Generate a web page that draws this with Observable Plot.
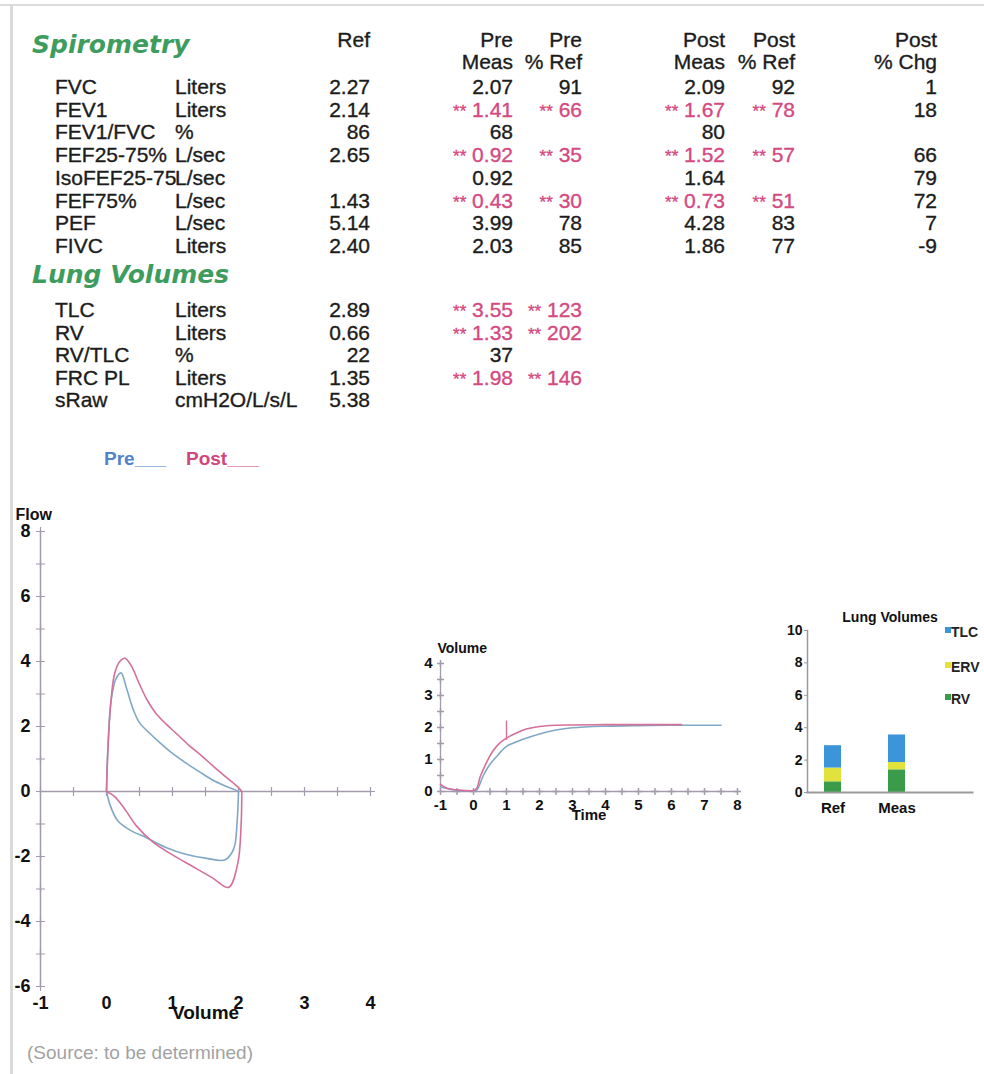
<!DOCTYPE html>
<html><head><meta charset="utf-8">
<script src="https://cdn.jsdelivr.net/npm/d3@7"></script>
<script src="https://cdn.jsdelivr.net/npm/@observablehq/plot@0.6"></script>
<style>
html,body{margin:0;padding:0;background:#fff;}
#page{position:relative;width:984px;height:1074px;overflow:hidden;background:#fff;font-family:"Liberation Sans",Arial,sans-serif;color:#1c1c1c;}
.t{position:absolute;white-space:nowrap;font-size:21px;line-height:24px;-webkit-text-stroke:0.35px currentColor;}
.r{transform:translateX(-100%);}
.flag{color:#d4497f;}
.ast{font-size:17px;}
.h{position:absolute;white-space:nowrap;font-family:"DejaVu Sans",sans-serif;font-weight:bold;font-style:italic;font-size:25px;line-height:30px;color:#3e9c5e;}
.pl{position:absolute;}
.lg{position:absolute;white-space:nowrap;font-weight:bold;font-size:19px;line-height:22px;}
</style></head><body><div id="page"></div>
<script>
// ---------------- DATA ----------------
const spiroParams = ["FVC","FEV1","FEV1/FVC","FEF25-75%","IsoFEF25-75","FEF75%","PEF","FIVC"];
const spiroUnits  = ["Liters","Liters","%","L/sec","L/sec","L/sec","L/sec","Liters"];
const spiroRef    = ["2.27","2.14","86","2.65","","1.43","5.14","2.40"];
const spiroPreMeas= ["2.07","1.41","68","0.92","0.92","0.43","3.99","2.03"];
const spiroPrePct = ["91","66","","35","","30","78","85"];
const spiroPostMeas=["2.09","1.67","80","1.52","1.64","0.73","4.28","1.86"];
const spiroPostPct= ["92","78","","57","","51","83","77"];
const spiroPostChg= ["1","18","","66","79","72","7","-9"];
const spiroFlag   = [0,1,0,1,0,1,0,0];

const lvParams  = ["TLC","RV","RV/TLC","FRC PL","sRaw"];
const lvUnits   = ["Liters","Liters","%","Liters","cmH2O/L/s/L"];
const lvRef     = ["2.89","0.66","22","1.35","5.38"];
const lvPreMeas = ["3.55","1.33","37","1.98",""];
const lvPrePct  = ["123","202","","146",""];
const lvFlag    = [1,1,0,1,0];

const headers = [
  {col:"ref", lines:["Ref"]},
  {col:"preMeas", lines:["Pre","Meas"]},
  {col:"prePct", lines:["Pre","% Ref"]},
  {col:"postMeas", lines:["Post","Meas"]},
  {col:"postPct", lines:["Post","% Ref"]},
  {col:"postChg", lines:["Post","% Chg"]}
];

// Flow-volume loop  [volume, flow]
const preExp  = [[0,0],[0.02,1.3],[0.07,2.8],[0.14,3.45],[0.22,3.65],[0.3,3.2],[0.4,2.55],[0.5,2.12],[0.65,1.8],[0.82,1.48],[1.0,1.17],[1.2,0.88],[1.4,0.62],[1.6,0.36],[1.8,0.17],[1.95,0.05],[2.0,0]];
const preInsp = [[2.0,0],[1.98,-0.9],[1.93,-1.75],[1.8,-2.1],[1.5,-2.05],[1.2,-1.93],[0.9,-1.72],[0.6,-1.42],[0.35,-1.18],[0.17,-0.9],[0.06,-0.45],[0,0]];
const postExp = [[0,0],[0.02,1.2],[0.06,2.6],[0.12,3.6],[0.2,4.0],[0.28,4.1],[0.38,3.85],[0.5,3.3],[0.62,2.8],[0.75,2.4],[0.9,2.08],[1.05,1.8],[1.25,1.42],[1.45,1.08],[1.65,0.72],[1.85,0.38],[2.0,0.12],[2.05,0]];
const postInsp= [[2.05,0],[2.04,-1.0],[1.99,-2.2],[1.85,-2.95],[1.6,-2.65],[1.3,-2.3],[1.0,-1.95],[0.7,-1.55],[0.45,-1.05],[0.28,-0.55],[0.12,-0.15],[0,0]];
const flowYTicks = [-6,-5,-4,-3,-2,-1,0,1,2,3,4,5,6,7,8];
const flowYLabels = [-6,-4,-2,0,2,4,6,8];
const flowXTicks = [-0.5,0,0.5,1,1.5,2,2.5,3,3.5,4];
const flowXLabels = [-1,0,1,2,3,4];

// Volume-time  [time, volume]
const preVT  = [[-1,0.15],[-0.6,0.05],[0,0.02],[0.1,0.05],[0.3,0.5],[0.5,0.85],[0.75,1.15],[1.0,1.41],[1.5,1.63],[2,1.8],[2.5,1.92],[3,1.99],[4,2.04],[5,2.06],[6,2.07],[7.5,2.07]];
const postVT = [[-1,0.22],[-0.8,0.1],[-0.5,0.05],[0,0.03],[0.1,0.1],[0.2,0.45],[0.4,0.92],[0.6,1.28],[0.8,1.52],[1.0,1.67],[1.3,1.83],[1.6,1.95],[2.0,2.03],[2.5,2.07],[3,2.08],[4,2.09],[5,2.09],[6.3,2.09]];
const vtMarkers = [{series:"Post", t:1, v1:1.6, v2:2.2}];
const vtXTicks = [-0.5,0,0.5,1,1.5,2,2.5,3,3.5,4,4.5,5,5.5,6,6.5,7,7.5,8];
const vtYTicks = [0,0.5,1,1.5,2,2.5,3,3.5,4];
const vtXLabels = [-1,0,1,2,3,4,5,6,7,8];
const vtYLabels = [0,1,2,3,4];

// Lung volumes bars
const lvCats  = ["Ref","Meas"];
const lvComps = ["RV","ERV","TLC"];
const lvRV    = [0.66,1.40];
const lvERV   = [0.85,0.45];
const lvTop   = [1.38,1.70];
const lvYLabels = [0,2,4,6,8,10];

const preColor = "#80a8c6", postColor = "#d4709a", axisColor = "#a39aad";
const compColors = ["#3a9c48","#e2e23c","#3b95d8"];
const fmt = d => String(d);

// ---------------- PAGE ----------------
const page = document.getElementById("page");
function el(cls, x, y, html, extra="") {
  const d = document.createElement("div");
  d.className = cls;
  d.style.cssText = `left:${x}px;top:${y}px;${extra}`;
  d.innerHTML = html;
  page.appendChild(d);
  return d;
}
// frame borders
el("", 0, 4, "", "position:absolute;width:984px;height:2px;background:#dadada;");
el("", 10, 4, "", "position:absolute;width:3px;height:1070px;background:#dadada;");

const colX = {label:55, unit:175, ref:370, preMeas:513, prePct:582, postMeas:725, postPct:795, postChg:937};
function cell(x, yc, v, right, flag) {
  if (v === "") return;
  const html = flag ? `<span class="ast">**</span> ${v}` : v;
  el("t" + (right ? " r" : "") + (flag ? " flag" : ""), x, yc - 12, html);
}
// headers
headers.forEach(h => h.lines.forEach((s, i) => cell(colX[h.col], 40 + i * 22, s, true, false)));
// headings
el("h", 32, 30, "Spirometry");
el("h", 32, 260, "Lung Volumes");
// spirometry rows
spiroParams.forEach((p, i) => {
  const y = 87 + i * 22.7;
  cell(colX.label, y, p, false, false);
  cell(colX.unit, y, spiroUnits[i], false, false);
  cell(colX.ref, y, spiroRef[i], true, false);
  cell(colX.preMeas, y, spiroPreMeas[i], true, spiroFlag[i]);
  cell(colX.prePct, y, spiroPrePct[i], true, spiroFlag[i]);
  cell(colX.postMeas, y, spiroPostMeas[i], true, spiroFlag[i]);
  cell(colX.postPct, y, spiroPostPct[i], true, spiroFlag[i]);
  cell(colX.postChg, y, spiroPostChg[i], true, false);
});
lvParams.forEach((p, i) => {
  const y = 310 + i * 22.5;
  cell(colX.label, y, p, false, false);
  cell(colX.unit, y, lvUnits[i], false, false);
  cell(colX.ref, y, lvRef[i], true, false);
  cell(colX.preMeas, y, lvPreMeas[i], true, lvFlag[i]);
  cell(colX.prePct, y, lvPrePct[i], true, lvFlag[i]);
});
// legend pre/post
el("lg", 104, 448, "Pre___", "color:#5283c9;");
el("lg", 186, 448, "Post___", "color:#d0477d;");
// source
el("", 27, 1041, "(Source: to be determined)", "position:absolute;white-space:nowrap;font-size:19px;line-height:24px;color:#a2a2a2;");

function place(svg, x, y) {
  const d = document.createElement("div");
  d.className = "pl";
  d.style.left = x + "px"; d.style.top = y + "px";
  d.appendChild(svg);
  page.appendChild(d);
}
const baseStyle = {fontFamily:'"Liberation Sans", Arial, sans-serif', fontWeight:"bold", color:"#111", background:"transparent", overflow:"visible"};

// ---------------- FLOW-VOLUME ----------------
const flowRows = [];
[["Pre","e",preExp],["Pre","i",preInsp],["Post","e",postExp],["Post","i",postInsp]].forEach(([s, g, pts]) =>
  pts.forEach(([v, f]) => flowRows.push({series:s, seg:s + g, v, f})));

const flowPlot = Plot.plot({
  width: 390, height: 525,
  marginLeft: 40, marginRight: 20, marginTop: 36, marginBottom: 34,
  x: {domain: [-1, 4]}, y: {domain: [-6, 8]},
  color: {domain: ["Pre","Post"], range: [preColor, postColor]},
  style: {...baseStyle, fontSize: "18px"},
  marks: [
    Plot.ruleX([-1], {y1: -6, y2: 8, stroke: axisColor, strokeWidth: 1.5}),
    Plot.ruleY([0], {x1: -1, x2: 4, stroke: axisColor, strokeWidth: 1.5}),
    Plot.dot(flowYTicks, {x: -1, y: d => d, symbol: "plus", r: 3, stroke: axisColor, strokeWidth: 1.2}),
    Plot.dot(flowXTicks, {x: d => d, y: 0, symbol: "plus", r: 3, stroke: axisColor, strokeWidth: 1.2}),
    Plot.axisY({ticks: flowYLabels, tickFormat: fmt, tickSize: 0, tickPadding: 10, label: null, fontSize: 18}),
    Plot.axisX({ticks: flowXLabels, tickFormat: fmt, tickSize: 0, tickPadding: 10, label: null, fontSize: 18}),
    Plot.text(["Volume"], {frameAnchor: "bottom", dy: 32, fontSize: 19, fill: "#111"}),
    Plot.text(["Flow"], {frameAnchor: "top-left", dx: -25, dy: -23, textAnchor: "start", fontSize: 16, fill: "#111"}),
    Plot.line(flowRows, {x: "v", y: "f", z: "seg", stroke: "series", strokeWidth: 1.6, curve: "catmull-rom"})
  ]
});
place(flowPlot, 0, 495);

// ---------------- VOLUME-TIME ----------------
const vtRows = [];
[["Pre", preVT], ["Post", postVT]].forEach(([s, pts]) => pts.forEach(([t, v]) => vtRows.push({series:s, t, v})));
const vtPlot = Plot.plot({
  width: 357, height: 201,
  marginLeft: 40, marginRight: 20, marginTop: 33, marginBottom: 40,
  x: {domain: [-1, 8]}, y: {domain: [0, 4]},
  color: {domain: ["Pre","Post"], range: [preColor, postColor]},
  style: {...baseStyle, fontSize: "14px"},
  marks: [
    Plot.ruleX([-1], {y1: 0, y2: 4, stroke: axisColor, strokeWidth: 1.3}),
    Plot.ruleY([0], {x1: -1, x2: 8, stroke: axisColor, strokeWidth: 1.3}),
    Plot.dot(vtYTicks, {x: -1, y: d => d, symbol: "plus", r: 2.4, stroke: axisColor}),
    Plot.dot(vtXTicks, {x: d => d, y: 0, symbol: "plus", r: 2.4, stroke: axisColor}),
    Plot.axisY({ticks: vtYLabels, tickFormat: fmt, tickSize: 0, tickPadding: 8, label: null, fontSize: 15}),
    Plot.axisX({ticks: vtXLabels, tickFormat: fmt, tickSize: 0, tickPadding: 8, label: null, fontSize: 15}),
    Plot.text(["Volume"], {frameAnchor: "top-left", dx: -3, dy: -20, fontSize: 14, fill: "#111"}),
    Plot.text(["Time"], {frameAnchor: "bottom", dy: 28, fontSize: 15, fill: "#111"}),
    Plot.line(vtRows, {x: "t", y: "v", z: "series", stroke: "series", strokeWidth: 1.6, curve: "catmull-rom"}),
    Plot.ruleX(vtMarkers, {x: "t", y1: "v1", y2: "v2", stroke: "series", strokeWidth: 1.4})
  ]
});
place(vtPlot, 400, 630);

// ---------------- LUNG VOLUMES BARS ----------------
const barRows = [];
lvCats.forEach((c, i) => {
  barRows.push({cat: c, comp: "RV", value: lvRV[i]});
  barRows.push({cat: c, comp: "ERV", value: lvERV[i]});
  barRows.push({cat: c, comp: "TLC", value: lvTop[i]});
});
const barPlot = Plot.plot({
  width: 224, height: 227,
  marginLeft: 47, marginRight: 12, marginTop: 35, marginBottom: 30,
  x: {type: "band", domain: lvCats, range: [63.5, 145.5], paddingInner: 0.738, paddingOuter: 0, align: 0.5},
  y: {domain: [0, 10]},
  color: {domain: lvComps, range: compColors},
  style: {...baseStyle, fontSize: "14px"},
  marks: [
    Plot.barY(barRows, {x: "cat", y: "value", fill: "comp"}),
    Plot.frame({anchor: "left", stroke: "#9a9a9a", strokeWidth: 1.5}),
    Plot.frame({anchor: "bottom", stroke: "#9a9a9a", strokeWidth: 2}),
    Plot.axisY({ticks: lvYLabels, tickFormat: fmt, tickSize: 3, tickPadding: 2, label: null, fontSize: 14, stroke: "#9a9a9a"}),
    Plot.axisX({tickSize: 0, tickPadding: 10, label: null, fontSize: 15}),
    Plot.text(["Lung Volumes"], {frameAnchor: "top", dy: -18, fontSize: 14, fill: "#111"})
  ]
});
place(barPlot, 760, 595);

// legend for bars
const legY = [632, 667, 699];
["TLC","ERV","RV"].forEach((s, i) => {
  const c = compColors[lvComps.indexOf(s)];
  el("", 945, legY[i] - 5, "", `position:absolute;width:6px;height:6px;background:${c};`);
  el("", 951, legY[i] - 8, s, "position:absolute;white-space:nowrap;font-weight:bold;font-size:14px;line-height:16px;color:#222;");
});
</script></body></html>
